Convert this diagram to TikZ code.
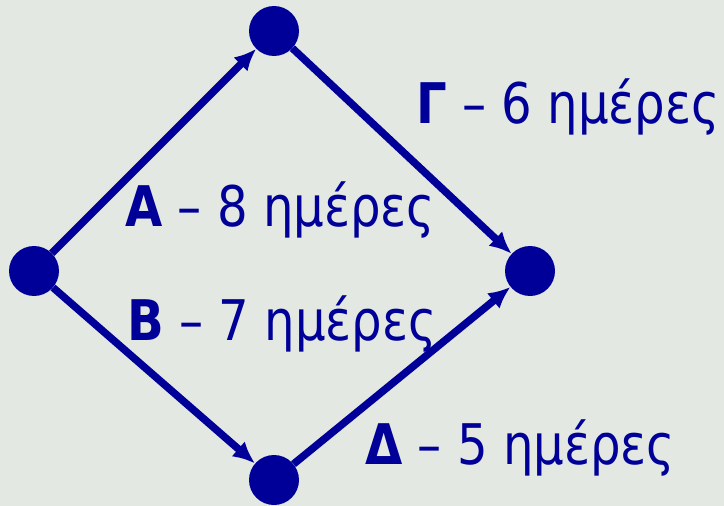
\documentclass[tikz,border=0pt]{standalone}
\usepackage{fontspec}
\setmainfont{DejaVu Sans}[FakeStretch=0.86]
\usetikzlibrary{arrows.meta}
\definecolor{navy}{HTML}{000099}
\definecolor{paper}{HTML}{E4E8E3}
\tikzset{>={Latex[length=22pt,width=20pt]}}
\tikzstyle{event} = [circle, fill=navy, minimum size=50pt, inner sep=0pt]
\tikzstyle{task} = [text=navy, anchor=base west, inner sep=0pt, font=\fontsize{56}{60}\selectfont]

\begin{document}
\begin{tikzpicture}[x=1pt, y=-1pt]
\useasboundingbox (0,0) rectangle (724,506);
\fill [paper] (0,0) rectangle (724,506);

\node [event] (start) at (34,271) {};
\node [event] (up) at (274,31) {};
\node [event] (down) at (274,480) {};
\node [event] (finish) at (530,271) {};

\draw [->, line width=7.5pt, draw=navy] (start) to (up);
\draw [->, line width=7.5pt, draw=navy] (start) to (down);
\draw [->, line width=7.5pt, draw=navy] (up) to (finish);
\draw [->, line width=7.5pt, draw=navy] (down) to (finish);

\node [task] (labA) at (125,226) {\textbf{Α} – 8 ημέρες};
\node [task] (labB) at (127,340) {\textbf{Β} – 7 ημέρες};
\node [task] (labG) at (416,123) {\textbf{Γ} – 6 ημέρες};
\node [task] (labD) at (365,464) {\textbf{Δ} – 5 ημέρες};
\end{tikzpicture}
\end{document}
